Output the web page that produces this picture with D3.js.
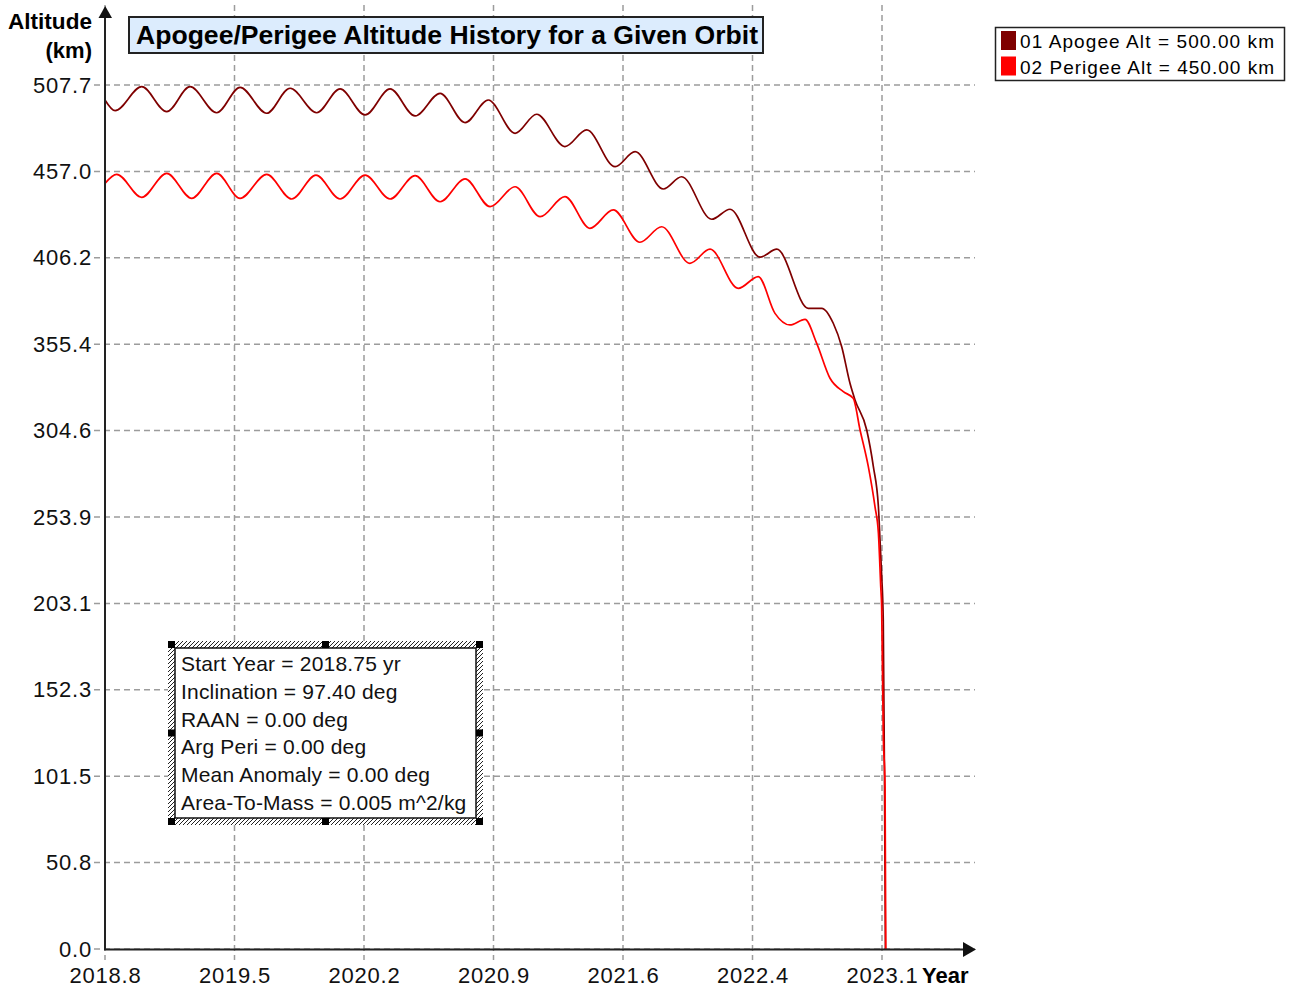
<!DOCTYPE html>
<html>
<head>
<meta charset="utf-8">
<script src="https://cdn.jsdelivr.net/npm/d3@7"></script>
<style>
body { margin: 0; background: #fff; }
text { font-family: "Liberation Sans", Arial, sans-serif; }
</style>
</head>
<body>
<script>
// tick values and labels
const xTickVals = [2018.75, 2019.47, 2020.19, 2020.91, 2021.63, 2022.35, 2023.07];
const xTickLabels = ["2018.8", "2019.5", "2020.2", "2020.9", "2021.6", "2022.4", "2023.1"];
const yTickVals = [0, 50.77, 101.54, 152.31, 203.08, 253.85, 304.62, 355.39, 406.16, 456.93, 507.7];
const yTickLabels = ["0.0", "50.8", "101.5", "152.3", "203.1", "253.9", "304.6", "355.4", "406.2", "457.0", "507.7"];

// [year, km]
const apogee = [
  [2018.750, 498.9], [2018.806, 492.6], [2018.954, 506.7], [2019.093, 492.0], [2019.223, 506.7],
  [2019.371, 491.4], [2019.501, 506.3], [2019.649, 491.1], [2019.779, 505.8], [2019.927, 491.4],
  [2020.057, 505.4], [2020.196, 490.1], [2020.335, 505.4], [2020.474, 489.5], [2020.613, 502.8],
  [2020.752, 485.6], [2020.881, 498.9], [2021.030, 479.3], [2021.150, 490.5], [2021.307, 471.5],
  [2021.428, 481.3], [2021.586, 459.7], [2021.697, 468.5], [2021.854, 446.6], [2021.956, 453.8],
  [2022.123, 428.8], [2022.225, 434.7], [2022.392, 406.5], [2022.485, 411.2], [2022.660, 376.5],
  [2022.735, 376.5], [2022.799, 367.7], [2022.846, 353.9], [2022.892, 332.4], [2022.920, 322.6],
  [2022.985, 305.0], [2023.022, 283.4], [2023.050, 259.9], [2023.059, 240.3], [2023.068, 219.8],
  [2023.077, 193.3], [2023.084, 96.4], [2023.089, 0]
];
const perigee = [
  [2018.750, 449.9], [2018.815, 455.2], [2018.954, 441.7], [2019.093, 455.8], [2019.232, 441.1],
  [2019.371, 455.8], [2019.501, 441.1], [2019.649, 455.2], [2019.788, 440.7], [2019.923, 454.8],
  [2020.057, 440.7], [2020.196, 454.8], [2020.335, 440.7], [2020.474, 454.4], [2020.613, 439.1],
  [2020.752, 452.5], [2020.891, 436.2], [2021.030, 447.9], [2021.169, 430.3], [2021.307, 442.1],
  [2021.446, 423.5], [2021.576, 434.3], [2021.724, 415.3], [2021.845, 424.4], [2022.002, 402.9],
  [2022.114, 411.2], [2022.271, 388.2], [2022.382, 395.1], [2022.475, 373.5], [2022.558, 366.7],
  [2022.642, 370.0], [2022.707, 355.9], [2022.781, 335.4], [2022.855, 327.5], [2022.910, 323.6],
  [2022.948, 305.0], [2022.994, 283.4], [2023.031, 259.9], [2023.050, 244.4], [2023.063, 212.9],
  [2023.068, 201.1], [2023.077, 126.9], [2023.087, 95.4], [2023.091, 0]
];

const seriesNames = ["01 Apogee Alt = 500.00 km", "02 Perigee Alt = 450.00 km"];
const seriesColors = ["#7f0000", "#ff0000"];
const infoLines = [
  "Start Year = 2018.75 yr",
  "Inclination = 97.40 deg",
  "RAAN = 0.00 deg",
  "Arg Peri = 0.00 deg",
  "Mean Anomaly = 0.00 deg",
  "Area-To-Mass = 0.005 m^2/kg"
];

const svg = d3.select('body').append('svg')
  .attr('width', 1289)
  .attr('height', 990);

const x = d3.scaleLinear().domain([2018.75, 2023.07]).range([105, 882]);
const y = d3.scaleLinear().domain([0, 507.7]).range([949, 85]);

// grid
svg.append('g').selectAll('line').data(yTickVals).join('line')
  .attr('x1', 94).attr('x2', 975)
  .attr('y1', d => y(d)).attr('y2', d => y(d))
  .attr('stroke', '#9c9c9c').attr('stroke-width', 1.5)
  .attr('stroke-dasharray', '6,4');
svg.append('g').selectAll('line').data(xTickVals).join('line')
  .attr('x1', d => x(d)).attr('x2', d => x(d))
  .attr('y1', 5).attr('y2', 960)
  .attr('stroke', '#9c9c9c').attr('stroke-width', 1.5)
  .attr('stroke-dasharray', '6,4');

// tick labels via d3 axes
const yAxis = svg.append('g').attr('transform', 'translate(105,0)')
  .call(d3.axisLeft(y).tickValues(yTickVals).tickFormat((d, i) => yTickLabels[i]).tickSize(0).tickPadding(13));
const xAxis = svg.append('g').attr('transform', 'translate(0,949)')
  .call(d3.axisBottom(x).tickValues(xTickVals).tickFormat((d, i) => xTickLabels[i]).tickSize(0).tickPadding(18));
[yAxis, xAxis].forEach(a => {
  a.select('.domain').remove();
  a.selectAll('text')
    .attr('font-family', '"Liberation Sans", Arial, sans-serif')
    .attr('font-size', 22)
    .attr('letter-spacing', 0.8)
    .attr('fill', '#111');
});

// lines
const line = d3.line().x(d => x(d[0])).y(d => y(d[1])).curve(d3.curveMonotoneX);
[apogee, perigee].forEach((s, i) => {
  svg.append('path').datum(s)
    .attr('d', line)
    .attr('fill', 'none')
    .attr('stroke', seriesColors[i])
    .attr('stroke-width', 1.7);
});

// axis lines with arrows
svg.append('line').attr('x1', 105).attr('x2', 105).attr('y1', 950).attr('y2', 14)
  .attr('stroke', '#222').attr('stroke-width', 2);
svg.append('path').attr('d', 'M98.5,18 L112,18 L105.2,6 Z').attr('fill', '#111');
svg.append('line').attr('x1', 104).attr('x2', 966).attr('y1', 949.5).attr('y2', 949.5)
  .attr('stroke', '#222').attr('stroke-width', 2);
svg.append('path').attr('d', 'M963,942 L963,957 L976,949.5 Z').attr('fill', '#111');

// axis titles
svg.append('text').attr('x', 92).attr('y', 29).attr('text-anchor', 'end')
  .attr('font-weight', 'bold').attr('font-size', 22)
  .attr('textLength', 84).attr('lengthAdjust', 'spacingAndGlyphs').text('Altitude');
svg.append('text').attr('x', 92).attr('y', 58).attr('text-anchor', 'end')
  .attr('font-weight', 'bold').attr('font-size', 22).text('(km)');
svg.append('text').attr('x', 922).attr('y', 983)
  .attr('font-weight', 'bold').attr('font-size', 22).text('Year');

// title
svg.append('rect').attr('x', 129).attr('y', 17).attr('width', 634).attr('height', 36)
  .attr('fill', '#dcecfd').attr('stroke', '#222').attr('stroke-width', 2);
svg.append('text').attr('x', 136).attr('y', 44)
  .attr('font-weight', 'bold').attr('font-size', 25)
  .attr('textLength', 622).attr('lengthAdjust', 'spacingAndGlyphs')
  .text('Apogee/Perigee Altitude History for a Given Orbit');

// legend
svg.append('rect').attr('x', 995.5).attr('y', 27.5).attr('width', 289).attr('height', 53)
  .attr('fill', '#fff').attr('stroke', '#222').attr('stroke-width', 1.5);
seriesNames.forEach((n, i) => {
  svg.append('rect').attr('x', 1001).attr('y', 31 + i * 25.5).attr('width', 15).attr('height', 19)
    .attr('fill', seriesColors[i]);
  svg.append('text').attr('x', 1020).attr('y', 48 + i * 26)
    .attr('font-size', 19).attr('textLength', 254).attr('lengthAdjust', 'spacing')
    .text(n);
});

// info box with hatched frame
const defs = svg.append('defs');
defs.append('pattern').attr('id', 'hatch').attr('patternUnits', 'userSpaceOnUse')
  .attr('width', 4).attr('height', 4)
  .append('path').attr('d', 'M-1,1 L1,-1 M0,4 L4,0 M3,5 L5,3')
  .attr('stroke', '#222').attr('stroke-width', 1);

const bx0 = 168, by0 = 641, bx1 = 483, by1 = 825, band = 7;
svg.append('rect').attr('x', bx0).attr('y', by0).attr('width', bx1 - bx0).attr('height', by1 - by0).attr('fill', '#fff');
svg.append('rect').attr('x', bx0).attr('y', by0).attr('width', bx1 - bx0).attr('height', by1 - by0).attr('fill', 'url(#hatch)');
svg.append('rect').attr('x', bx0 + band).attr('y', by0 + band)
  .attr('width', bx1 - bx0 - 2 * band).attr('height', by1 - by0 - 2 * band)
  .attr('fill', '#fff').attr('stroke', '#111').attr('stroke-width', 1.5);
const mx = (bx0 + bx1) / 2 - band / 2, my = (by0 + by1) / 2 - band / 2;
const handles = [[bx0, by0], [bx1 - band, by0], [bx0, by1 - band], [bx1 - band, by1 - band],
  [mx, by0], [mx, by1 - band], [bx0, my], [bx1 - band, my]];
svg.append('g').selectAll('rect').data(handles).join('rect')
  .attr('x', d => d[0]).attr('y', d => d[1]).attr('width', band).attr('height', band).attr('fill', '#000');
svg.append('g').selectAll('text').data(infoLines).join('text')
  .attr('x', 181).attr('y', (d, i) => 671 + i * 27.8)
  .attr('font-size', 21).attr('letter-spacing', 0.2).attr('fill', '#111')
  .text(d => d);
</script>
</body>
</html>
